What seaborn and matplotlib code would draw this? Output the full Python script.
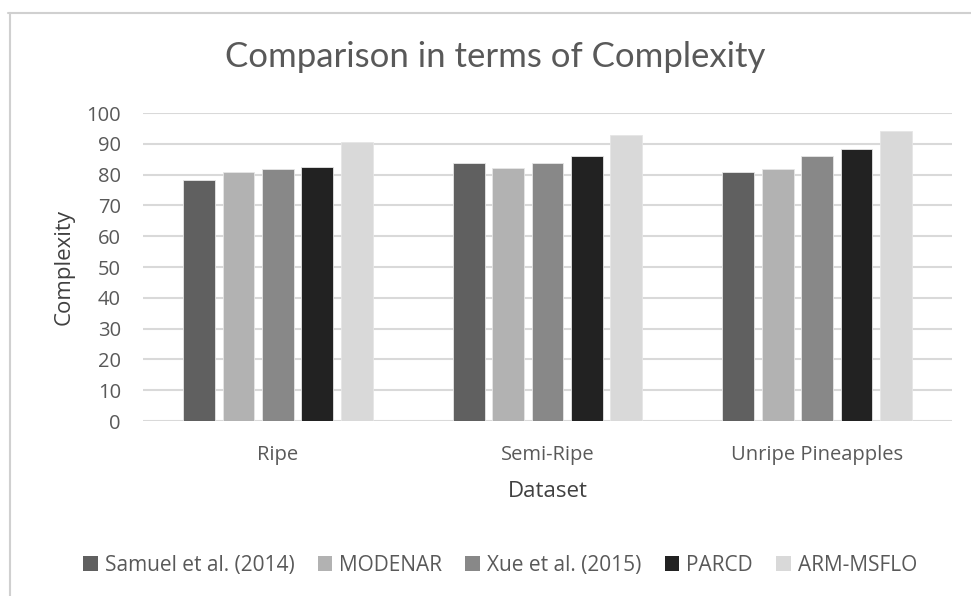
import matplotlib
matplotlib.use("Agg")
import matplotlib.pyplot as plt
from matplotlib.patches import Patch
import seaborn as sns
import pandas as pd

datasets = ["Ripe", "Semi-Ripe", "Unripe Pineapples"]
methods = ["Samuel et al. (2014)", "MODENAR", "Xue et al. (2015)", "PARCD", "ARM-MSFLO"]
samuel = [78.1, 83.9, 80.7]
modenar = [80.7, 82.2, 81.8]
xue = [81.7, 83.9, 86.0]
parcd = [82.4, 86.0, 88.2]
arm_msflo = [90.7, 92.9, 94.3]
colors = ["#606060", "#b2b2b2", "#888888", "#222222", "#d9d9d9"]

rows = []
for m, vals in zip(methods, [samuel, modenar, xue, parcd, arm_msflo]):
    for d, v in zip(datasets, vals):
        rows.append({"Dataset": d, "Method": m, "Complexity": v})
df = pd.DataFrame(rows)

sns.set_theme(style="white")
plt.rcParams["font.family"] = ["Open Sans", "DejaVu Sans"]
text_color = "#595959"

fig = plt.figure(figsize=(9.71, 5.96), dpi=100)
ax = fig.add_axes([0.1473, 0.2936, 0.8331, 0.5168])

sns.barplot(data=df, x="Dataset", y="Complexity", hue="Method", order=datasets,
            hue_order=methods, palette=colors, width=0.73, gap=0.19,
            edgecolor="#e6e6e6", linewidth=0.6, ax=ax, legend=False, zorder=3)

ax.set_ylim(0, 100)
ax.set_xlim(-0.5, 2.5)
ax.set_yticks(range(0, 101, 10))
ax.yaxis.grid(True, color="#d9d9d9", linewidth=1.5, zorder=0)
ax.set_axisbelow(True)
for s in ax.spines.values():
    s.set_visible(False)
ax.tick_params(axis="y", length=0, labelsize=14.5, colors=text_color, pad=16)
ax.tick_params(axis="x", length=0, labelsize=14.5, colors=text_color, pad=17)
ax.set_ylabel("Complexity", fontsize=16, color="#404040", labelpad=8)
ax.set_xlabel("Dataset", fontsize=16, color="#404040", labelpad=12)

fig.text(0.51, 0.905, "Comparison in terms of Complexity", ha="center", va="center",
         fontsize=25, color=text_color, family=["Lato", "DejaVu Sans"])

handles = [Patch(facecolor=c, edgecolor="none") for c in colors]
fig.legend(handles, methods, loc="center", bbox_to_anchor=(0.515, 0.052), ncol=5,
           frameon=False, fontsize=15, handlelength=0.7, handleheight=0.7,
           handletextpad=0.35, columnspacing=1.1, labelcolor=text_color)

# sheet frame lines
fig.add_artist(plt.Line2D([0.008, 1.0], [0.978, 0.978], color="#d0d0d0", linewidth=1.5,
                          transform=fig.transFigure))
fig.add_artist(plt.Line2D([0.010, 0.010], [0.0, 0.978], color="#d0d0d0", linewidth=1.5,
                          transform=fig.transFigure))

fig.savefig("out.png", dpi=100)
